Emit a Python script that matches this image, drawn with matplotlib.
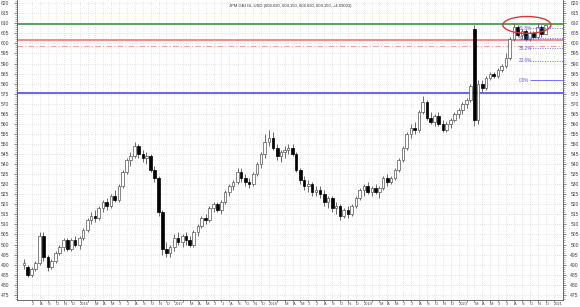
import pandas as pd
import numpy as np
import matplotlib
matplotlib.use("Agg")
import matplotlib.pyplot as plt
import matplotlib.dates as mdates
from matplotlib.patches import Ellipse
from matplotlib.ticker import MultipleLocator

plt.rcParams["font.family"] = ["Liberation Sans", "DejaVu Sans"]

# semi-monthly bars, Jun 2015 .. Dec 2020
dates = pd.date_range("2015-06-01", "2020-12-01", freq="SMS")

opens = (
    [490, 489, 485, 488, 491, 504, 494, 489, 492, 496, 499, 502, 498, 502]
    + [500, 503, 507, 512, 514, 513, 518, 521, 519, 524, 522, 529, 536, 542, 544, 549, 545, 543, 544, 537, 533, 516, 498, 496]
    + [499, 503, 501, 504, 502, 500, 506, 509, 513, 512, 518, 520, 517, 521, 526, 529, 531, 536, 533, 531, 530, 535, 540, 545]
    + [551, 553, 548, 544, 546, 547, 548, 545, 537, 532, 529, 530, 526, 527, 525, 521, 523, 518, 519, 514, 517, 515, 519, 523]
    + [527, 529, 526, 528, 526, 528, 533, 531, 533, 537, 542, 548, 555, 558, 557, 566, 571, 563, 561, 564, 560, 557, 560, 562]
    + [565, 567, 570, 572, 607, 562, 580, 578, 583, 585, 584, 587, 589, 593, 602, 608, 604, 606, 602, 605, 603, 608, 604.69]
)
highs = (
    [493, 490, 489, 492, 506, 506, 495, 493, 497, 500, 503, 503, 503, 504]
    + [504, 508, 513, 516, 517, 519, 522, 523, 525, 527, 530, 537, 543, 546, 551, 550, 547, 546, 545, 539, 534, 517, 501, 500]
    + [505, 506, 505, 506, 504, 507, 510, 514, 515, 519, 521, 521, 522, 527, 530, 532, 538, 538, 535, 533, 536, 541, 546, 555]
    + [557, 556, 550, 547, 549, 550, 550, 546, 538, 534, 532, 531, 529, 529, 527, 524, 524, 521, 520, 518, 519, 520, 524, 528]
    + [530, 531, 529, 530, 529, 534, 535, 534, 538, 543, 549, 556, 560, 561, 567, 574, 572, 566, 565, 566, 562, 561, 563, 566]
    + [568, 571, 573, 580, 609, 582, 582, 584, 586, 586, 588, 590, 595, 603, 610, 609, 607, 607, 606, 606, 610, 609, 609.15]
)
lows = (
    [488, 484, 484, 487, 490, 492, 487, 488, 491, 495, 497, 497, 497, 499]
    + [498, 502, 506, 510, 511, 512, 516, 517, 518, 521, 521, 528, 535, 539, 543, 543, 541, 540, 536, 531, 514, 495, 494, 494]
    + [497, 500, 499, 500, 499, 499, 504, 508, 510, 511, 516, 516, 515, 520, 524, 527, 530, 531, 529, 528, 529, 534, 538, 543]
    + [549, 547, 542, 541, 543, 545, 544, 536, 530, 527, 526, 524, 524, 523, 519, 518, 516, 515, 512, 513, 513, 514, 518, 522]
    + [524, 525, 524, 525, 523, 527, 529, 530, 532, 536, 541, 547, 553, 555, 556, 565, 562, 560, 559, 559, 556, 556, 558, 561]
    + [563, 565, 568, 571, 559, 560, 576, 577, 582, 583, 583, 586, 588, 592, 601, 603, 602, 601, 601, 602, 602, 603, 604.69]
)
closes = (
    [491, 485, 488, 491, 504, 494, 489, 492, 496, 499, 502, 498, 502, 500]
    + [503, 507, 512, 514, 513, 518, 521, 519, 524, 522, 529, 536, 542, 544, 549, 545, 543, 544, 537, 533, 516, 498, 496, 499]
    + [503, 501, 504, 502, 500, 506, 509, 513, 512, 518, 520, 517, 521, 526, 529, 531, 536, 533, 531, 530, 535, 540, 545, 551]
    + [553, 548, 544, 546, 547, 548, 545, 537, 532, 529, 530, 526, 527, 525, 521, 523, 518, 519, 514, 517, 515, 519, 523, 527]
    + [529, 526, 528, 526, 528, 533, 531, 533, 537, 542, 548, 555, 558, 557, 566, 571, 563, 561, 564, 560, 557, 560, 562, 565]
    + [567, 570, 572, 579, 562, 580, 578, 583, 585, 584, 587, 589, 593, 602, 608, 604, 606, 602, 605, 603, 608, 604.5, 609.15]
)

# horizontal reference levels
green_level = 609.7
red_level = 601.8
red_dash_level = 598.5
blue_level = 575.5

fib_labels = ["0.0%", "23.6%", "38.2%", "50.0%", "61.8%"]
fib_prices = [581.7, 591.3, 597.6, 602.6, 607.6]

title = "JPM GBI GL USD (604.690, 609.150, 604.690, 609.150, +4.59003)"

df = pd.DataFrame({"date": dates, "open": opens, "high": highs, "low": lows, "close": closes})
up = df["close"] >= df["open"]

fig = plt.figure(figsize=(5.8, 3.07), dpi=100)
ax = fig.add_axes([16.7 / 580, 6.8 / 307, (562.7 - 16.7) / 580, 300.2 / 307])

# wicks
ax.vlines(df["date"], df["low"], df["high"], color="#555555", lw=0.6, zorder=3)
# bodies
body_lo = np.minimum(df["open"], df["close"])
body_h = np.maximum(np.abs(df["close"] - df["open"]), 0.3)
ax.bar(df["date"][up], body_h[up], bottom=body_lo[up], width=10,
       color="white", edgecolor="#555555", linewidth=0.5, zorder=4)
ax.bar(df["date"][~up], body_h[~up], bottom=body_lo[~up], width=10,
       color="black", edgecolor="black", linewidth=0.5, zorder=4)

# level lines
ax.axhline(green_level, color="#4f9a4f", lw=1.3, zorder=2)
ax.axhline(red_level, color="#f07575", lw=1.2, zorder=2)
ax.axhline(red_dash_level, color="#f4a0a0", lw=0.8, ls=(0, (5, 2, 1, 2)), zorder=2)
ax.axhline(blue_level, color="#4a4aff", lw=1.2, zorder=2)

# fibonacci
fib_start = pd.Timestamp("2020-10-02")
fib_end = pd.Timestamp("2021-02-05")
for lab, p in zip(fib_labels, fib_prices):
    ls = "-" if lab == "0.0%" else (0, (1, 1.5))
    ax.hlines(p, fib_start, fib_end, color="#6f6fff", lw=0.7, ls=ls, zorder=5)
    ax.text(pd.Timestamp("2020-08-21"), p, lab, color="#5c5ce0", fontsize=3.3,
            va="center", ha="left", zorder=6)

ell = Ellipse((mdates.date2num(pd.Timestamp("2020-09-20")), 609.2), width=185, height=8.4,
              fill=False, edgecolor="#e03535", lw=1.0, zorder=7)
ax.add_patch(ell)

# axes
ax.set_ylim(472.3, 621.6)
ax.set_xlim(pd.Timestamp("2015-05-04"), pd.Timestamp("2021-02-05"))
ax.yaxis.set_major_locator(MultipleLocator(5))
ax.yaxis.set_minor_locator(MultipleLocator(1))
ax.tick_params(axis="y", which="major", length=2.5, width=0.5, labelsize=3.6,
               labelcolor="#444444", color="#555555", pad=3, left=True, right=True,
               labelleft=True, labelright=True)
ax.tick_params(axis="y", which="minor", length=1.2, width=0.4, color="#777777",
               left=True, right=True)

months = pd.date_range("2015-07-01", "2021-01-01", freq="MS")
month_labels = []
for m in months:
    if m.month == 1:
        month_labels.append(str(m.year))
    elif m.month == 2:
        month_labels.append("")
    else:
        month_labels.append(m.strftime("%b")[0])
ax.set_xticks(months)
ax.set_xticklabels(month_labels)
ax.tick_params(axis="x", length=1.2, width=0.5, color="#555555", labelsize=2.9,
               labelcolor="#444444", pad=0.2)
for lbl in ax.get_xticklabels():
    lbl.set_ha("left")

ax.grid(True, which="major", color="#cfcfcf", lw=0.5, ls=(0, (1, 2)))
ax.set_axisbelow(True)
for side in ["left", "right", "bottom"]:
    ax.spines[side].set_color("#555555")
    ax.spines[side].set_linewidth(0.6)
ax.spines["top"].set_visible(False)

fig.text(290 / 580, 1 - 5.5 / 307, title, ha="center", va="center", fontsize=3.0, color="#333333")

fig.savefig("out.png", dpi=100)
